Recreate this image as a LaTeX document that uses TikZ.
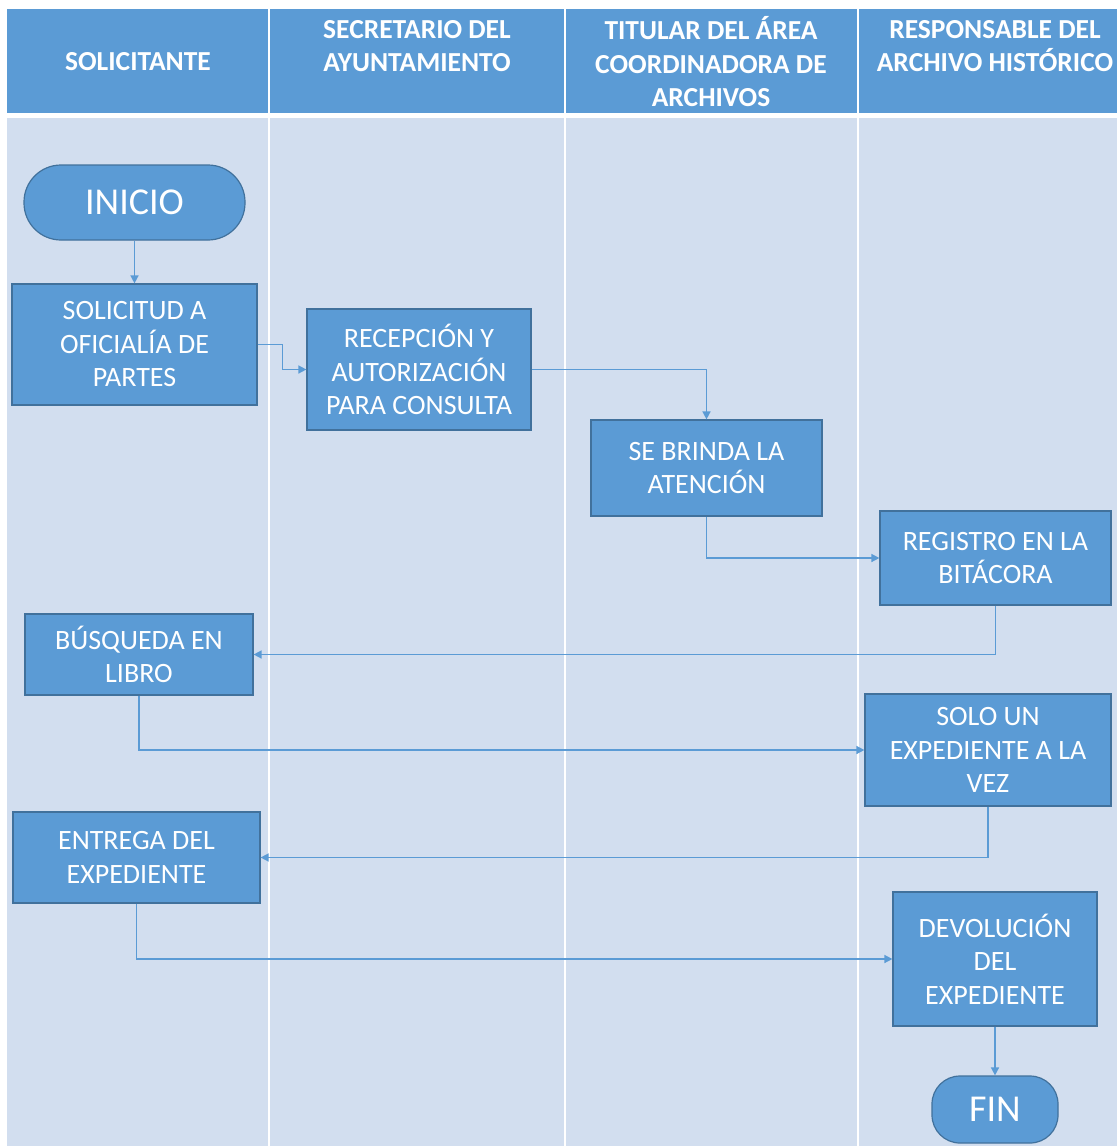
\documentclass[tikz,border=0pt]{standalone}
\usepackage{fontspec}
\setmainfont{Carlito}
\usetikzlibrary{arrows.meta}
\definecolor{hdr}{HTML}{5B9BD5}
\definecolor{bodyc}{HTML}{D2DEEF}
\definecolor{boxfill}{HTML}{5B9BD5}
\definecolor{boxline}{HTML}{41719C}
\definecolor{conn}{HTML}{5B9BD5}
\tikzset{
  stepbox/.style={draw=boxline, line width=1.2pt, fill=boxfill, text=white, align=center,
    font=\fontsize{28}{33.5}\selectfont, inner sep=0pt},
  termbox/.style={stepbox, font=\fontsize{38}{42}\selectfont},
  lanehead/.style={text=white, align=center, font=\bfseries\fontsize{27.5}{33.5}\selectfont, inner sep=0pt},
  flow/.style={draw=conn, line width=1.5pt, -{Triangle[length=8pt,width=8pt]}},
}
\begin{document}
\begin{tikzpicture}[x=1pt,y=-1pt]
\useasboundingbox (0,0) rectangle (1117,1146);
\fill[white] (0,0) rectangle (1117,1146);
% header band and body
\fill[hdr] (7,9) rectangle (1117,113);
\fill[bodyc] (7,118) rectangle (1117,1146);
% lane separators
\foreach \xx in {269,565,858} \draw[white, line width=2.5pt] (\xx,9) -- (\xx,1146);
% lane headers
\node[lanehead] (h1) at (138,62) {SOLICITANTE};
\node[lanehead] (h2) at (417,46) {SECRETARIO DEL\\AYUNTAMIENTO};
\node[lanehead] (h3) at (711,62) {TITULAR DEL ÁREA\\COORDINADORA DE\\ARCHIVOS};
\node[lanehead] (h4) at (995,46) {RESPONSABLE DEL\\ARCHIVO HISTÓRICO};
% nodes
\node[termbox, minimum width=221pt, minimum height=75pt, rounded corners=37pt] (inicio) at (134.5,202.5) {INICIO};
\node[stepbox, minimum width=245pt, minimum height=121pt] (sol) at (134.5,344.5) {SOLICITUD A\\OFICIALÍA DE\\PARTES};
\node[stepbox, minimum width=224pt, minimum height=121pt] (rec) at (419,369.5) {RECEPCIÓN Y\\AUTORIZACIÓN\\PARA CONSULTA};
\node[stepbox, minimum width=231pt, minimum height=96pt] (brinda) at (706.5,468) {SE BRINDA LA\\ATENCIÓN};
\node[stepbox, minimum width=231pt, minimum height=94pt] (reg) at (995.5,558) {REGISTRO EN LA\\BITÁCORA};
\node[stepbox, minimum width=228pt, minimum height=81pt] (busq) at (139,654.5) {BÚSQUEDA EN\\LIBRO};
\node[stepbox, minimum width=246pt, minimum height=112pt] (solo) at (988,750) {SOLO UN\\EXPEDIENTE A LA\\VEZ};
\node[stepbox, minimum width=247pt, minimum height=91pt] (entrega) at (136.5,857.5) {ENTREGA DEL\\EXPEDIENTE};
\node[stepbox, minimum width=204pt, minimum height=134pt] (devol) at (995,959) {DEVOLUCIÓN\\DEL\\EXPEDIENTE};
\node[termbox, minimum width=126pt, minimum height=67pt, rounded corners=28pt] (fin) at (995,1109.5) {FIN};
% connectors
\draw[flow] (inicio.south) -- (sol.north);
\draw[flow] (sol.east) -- ++(25,0) |- (rec.west);
\draw[flow] (rec.east) -| (brinda.north);
\draw[flow] (brinda.south) |- (reg.west);
\draw[flow] (reg.south) |- (busq.east);
\draw[flow] (busq.south) |- (solo.west);
\draw[flow] (solo.south) |- (entrega.east);
\draw[flow] (entrega.south) |- (devol.west);
\draw[flow] (devol.south) -- (fin.north);
\end{tikzpicture}
\end{document}
